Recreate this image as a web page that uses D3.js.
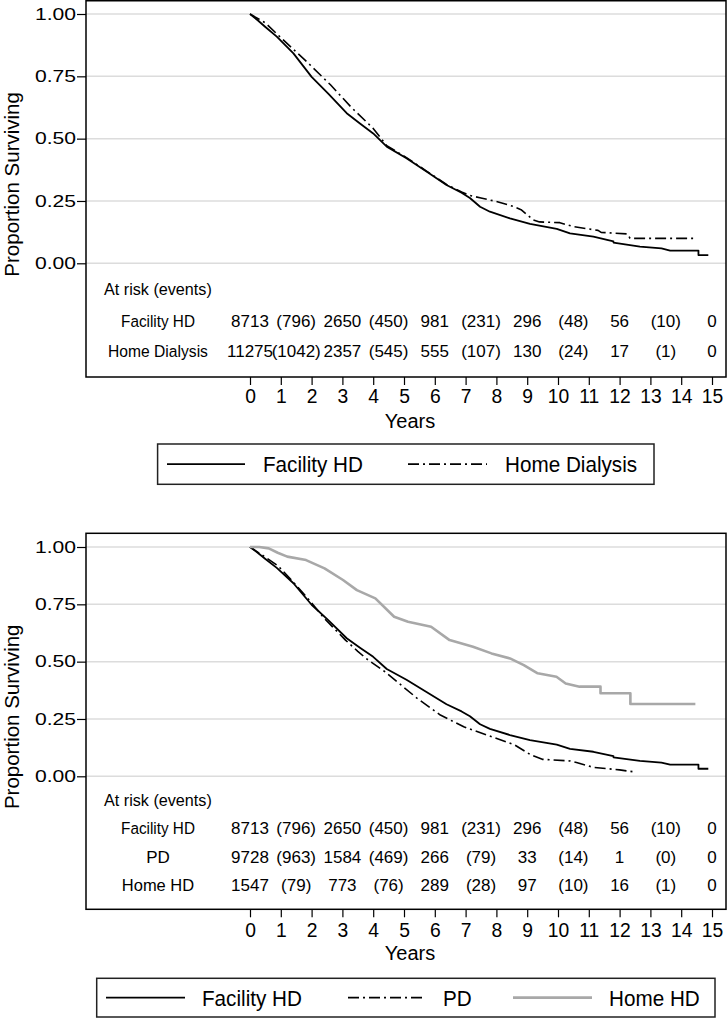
<!DOCTYPE html>
<html><head><meta charset="utf-8">
<script src="https://cdn.jsdelivr.net/npm/d3@7"></script>
<style>
body{margin:0;background:#fff}
text{font-family:"Liberation Sans",Arial,Helvetica,sans-serif;fill:#000}
</style>
</head><body>
<svg id="c" width="727" height="1018"></svg>
<script>
// ---------------- DATA ----------------
const xTicks = [0,1,2,3,4,5,6,7,8,9,10,11,12,13,14,15];
const yTicks = [0, 0.25, 0.5, 0.75, 1];
const riskTimes = [0,1.5,3,4.5,6,7.5,9,10.5,12,13.5,15];

const riskFacilityHD   = ["8713","(796)","2650","(450)","981","(231)","296","(48)","56","(10)","0"];
const riskHomeDialysis = ["11275","(1042)","2357","(545)","555","(107)","130","(24)","17","(1)","0"];
const riskPD           = ["9728","(963)","1584","(469)","266","(79)","33","(14)","1","(0)","0"];
const riskHomeHD       = ["1547","(79)","773","(76)","289","(28)","97","(10)","16","(1)","0"];

// Kaplan-Meier curves [years, proportion surviving]
const facilityHD = [[0,1],[0.25,0.975],[0.49,0.949],[0.87,0.909],[1.41,0.842],[2.0,0.748],[2.54,0.681],
  [3.14,0.602],[3.57,0.561],[4.0,0.521],[4.44,0.468],[5.08,0.421],[5.73,0.368],[6.38,0.314],[6.87,0.283],
  [7.14,0.262],[7.47,0.227],[7.79,0.207],[8.44,0.18],[9.09,0.158],[9.96,0.138],[10.39,0.12],[11.15,0.107],
  [11.8,0.088],[11.8,0.083],[12.66,0.067],[13.36,0.06],[13.64,0.051],[14.56,0.051],[14.56,0.033],[14.88,0.033]];
const homeDialysis = [[0,1],[0.49,0.965],[1.08,0.896],[1.84,0.809],[2.62,0.715],[3.27,0.628],[4.0,0.541],
  [4.44,0.472],[5.08,0.424],[5.73,0.37],[6.38,0.316],[6.87,0.286],[7.14,0.272],[7.5,0.262],[8.0,0.248],
  [8.55,0.228],[8.8,0.215],[9.2,0.174],[9.4,0.166],[10.06,0.163],[10.5,0.147],[11.3,0.132],[11.4,0.124],
  [12.25,0.118],[12.34,0.10],[14.42,0.10]];
const pd = [[0,1],[0.45,0.96],[0.91,0.918],[1.35,0.855],[1.82,0.785],[2.41,0.689],[3.1,0.594],[3.5,0.545],
  [3.77,0.514],[4.38,0.456],[5.43,0.34],[6.18,0.267],[6.94,0.216],[7.69,0.18],[8.59,0.137],[9.12,0.093],
  [9.49,0.074],[10.4,0.067],[10.6,0.06],[11.15,0.039],[12.0,0.028],[12.43,0.02]];
const homeHD = [[0,1],[0.3,1.0],[0.61,0.994],[0.9,0.975],[1.21,0.958],[1.82,0.943],[2.42,0.907],[3.02,0.856],
  [3.47,0.812],[4.07,0.776],[4.68,0.696],[5.13,0.674],[5.88,0.652],[6.48,0.594],[7.24,0.565],[7.84,0.536],
  [8.44,0.514],[8.89,0.485],[9.34,0.449],[9.95,0.434],[10.25,0.405],[10.7,0.391],[11.38,0.391],[11.38,0.362],
  [12.35,0.362],[12.35,0.315],[14.46,0.315]];

// ---------------- DRAW ----------------
const svg = d3.select("#c");
svg.append("rect").attr("width",727).attr("height",1018).attr("fill","#fff");

const BOX_L = 86, BOX_R = 726;
const x = d3.scaleLinear().domain([0,15]).range([250,712]);

const STYLE = {
  solid:   {stroke:"#000", width:1.8, dash:null},
  dashdot: {stroke:"#000", width:1.6, dash:"11,4,2,4"},
  gray:    {stroke:"#a8a8a8", width:2.6, dash:null}
};

function stretch(sel, sx){
  sel.each(function(){
    const t = d3.select(this);
    const xx = +t.attr("x") || 0;
    t.attr("x", xx/sx).attr("transform", `scale(${sx},1)`);
  });
}

function panel(cfg){
  const g = svg.append("g");
  const y = d3.scaleLinear().domain([0,1]).range([cfg.y0, cfg.y1]);

  // gridlines
  g.selectAll(".grid").data(yTicks).join("line")
    .attr("x1",BOX_L).attr("x2",BOX_R).attr("y1",d=>y(d)).attr("y2",d=>y(d))
    .attr("stroke","#dcdcdc").attr("stroke-width",1.5);

  // curves
  const line = d3.line().x(d=>x(d[0])).y(d=>y(d[1]));
  cfg.series.forEach(s=>{
    const st = STYLE[s.style];
    g.append("path").attr("d", line(s.data)).attr("fill","none")
      .attr("stroke",st.stroke).attr("stroke-width",st.width)
      .attr("stroke-dasharray",st.dash).attr("stroke-linejoin","round");
  });

  // box
  g.append("rect").attr("x",BOX_L).attr("y",cfg.boxTop).attr("width",BOX_R-BOX_L)
    .attr("height",cfg.boxBottom-cfg.boxTop).attr("fill","none").attr("stroke","#000").attr("stroke-width",1.5);

  // y axis
  const ya = g.append("g").attr("transform",`translate(${BOX_L},0)`)
    .call(d3.axisLeft(y).tickValues(yTicks).tickFormat(d3.format(".2f")).tickSize(9).tickPadding(1));
  ya.select(".domain").remove();
  ya.selectAll("line").attr("stroke","#000").attr("stroke-width",1.2);
  ya.selectAll("text").attr("font-size",16.5).attr("font-family",null).call(stretch,1.28);

  // y title
  g.append("text").attr("transform",`translate(18.5,${(cfg.boxTop+cfg.boxBottom)/2-4.5}) rotate(-90)`)
    .attr("text-anchor","middle").attr("font-size",20.5).text("Proportion Surviving");

  // x axis
  const xa = g.append("g").attr("transform",`translate(0,${cfg.boxBottom})`)
    .call(d3.axisBottom(x).tickValues(xTicks).tickFormat(d3.format("d")).tickSize(8).tickPadding(cfg.tickPad));
  xa.select(".domain").remove();
  xa.selectAll("line").attr("stroke","#000").attr("stroke-width",1.2);
  xa.selectAll("text").attr("font-size",21).attr("font-family",null).call(stretch,0.92);

  g.append("text").attr("x",410).attr("y",cfg.yearsBase).attr("text-anchor","middle")
    .attr("font-size",20).text("Years");

  // risk table
  g.append("text").attr("x",104).attr("y",cfg.riskBase[0]).attr("font-size",16.5).text("At risk (events)")
    .call(stretch,0.98);
  cfg.series.forEach((s,i)=>{
    const yb = cfg.riskBase[i+1];
    g.append("text").attr("x",158).attr("y",yb).attr("text-anchor","middle").attr("font-size",17)
      .text(s.name).call(stretch, s.labelSx);
    g.selectAll(null).data(s.risk).join("text")
      .attr("x",(d,j)=>x(riskTimes[j])).attr("y",yb).attr("text-anchor","middle")
      .attr("font-size",17).text(d=>d);
  });

  // legend
  const L = cfg.legend;
  g.append("rect").attr("x",L.x0).attr("y",L.y0).attr("width",L.x1-L.x0).attr("height",L.y1-L.y0)
    .attr("fill","#fff").attr("stroke","#222").attr("stroke-width",1.5);
  const ly = (L.y0+L.y1)/2;
  cfg.series.forEach((s,i)=>{
    const it = L.items[i];
    const st = STYLE[s.style];
    g.append("line").attr("x1",it[0]).attr("x2",it[1]).attr("y1",ly).attr("y2",ly)
      .attr("stroke",st.stroke).attr("stroke-width",st.width).attr("stroke-dasharray",st.dash);
    g.append("text").attr("x",it[2]).attr("y",ly+8).attr("font-size",22).text(s.name).call(stretch,0.94);
  });
}

panel({
  boxTop:0.75, boxBottom:377, y1:14, y0:263.3, tickPad:3, yearsBase:427.5,
  riskBase:[295,326.7,357.3],
  series:[
    {name:"Facility HD", data:facilityHD, style:"solid", risk:riskFacilityHD, labelSx:0.9},
    {name:"Home Dialysis", data:homeDialysis, style:"dashdot", risk:riskHomeDialysis, labelSx:0.92}
  ],
  legend:{x0:157.6,x1:654,y0:444,y1:484.3, items:[[167,245,263],[408,487,505]]}
});

panel({
  boxTop:533.3, boxBottom:909.3, y1:547, y0:776.3, tickPad:4.5, yearsBase:960,
  riskBase:[806,834.3,862.7,891],
  series:[
    {name:"Facility HD", data:facilityHD, style:"solid", risk:riskFacilityHD, labelSx:0.9},
    {name:"PD", data:pd, style:"dashdot", risk:riskPD, labelSx:1},
    {name:"Home HD", data:homeHD, style:"gray", risk:riskHomeHD, labelSx:0.97}
  ],
  legend:{x0:96.7,x1:715,y0:978.3,y1:1017, items:[[106,185,202],[348,425,443],[513,592,609]]}
});
</script>
</body></html>
